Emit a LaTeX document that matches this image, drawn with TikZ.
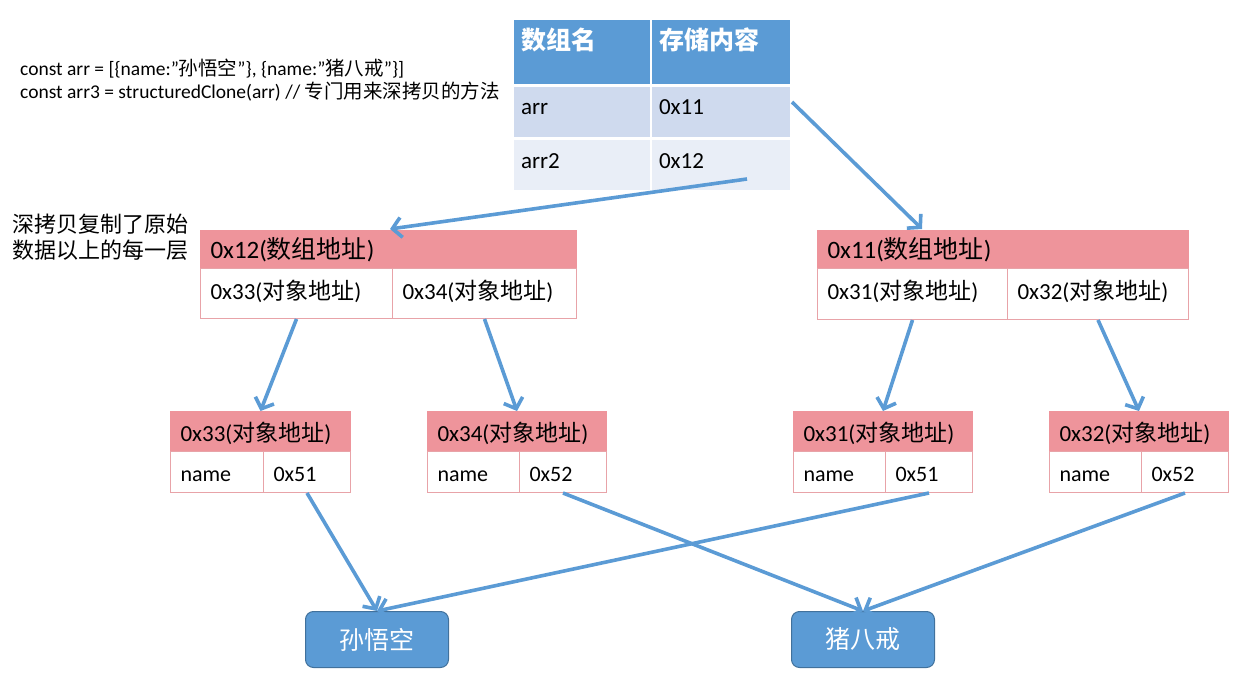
\documentclass[tikz,border=0pt]{standalone}
\usepackage{fontspec}
\setmainfont{Carlito}
\newfontfamily\cjk{Noto Sans CJK SC}
\usetikzlibrary{arrows.meta,calc}
\definecolor{hblue}{HTML}{5B9BD5}
\definecolor{rowa}{HTML}{CFDAEE}
\definecolor{rowb}{HTML}{E9EEF7}
\definecolor{pinkh}{HTML}{EE949B}
\definecolor{pinkl}{HTML}{E8A3A8}
\definecolor{bdark}{HTML}{41719C}
\newcommand\zh[1]{{\cjk #1}}
\newcommand\dq{\symbol{34}}
\tikzset{
  tcell/.style={draw=white, line width=2pt, anchor=north west, inner xsep=8pt, inner ysep=0pt, align=left},
  pcell/.style={draw=pinkl, line width=1pt, anchor=north west, inner xsep=10pt, inner ysep=0pt, align=left},
  phead/.style={pcell, fill=pinkh, draw=pinkh},
  leaf/.style={draw=bdark, line width=1pt, fill=hblue, rounded corners=8pt, minimum width=143pt, minimum height=56pt, anchor=north west, text=white, font=\cjk\fontsize{25}{30}\selectfont},
  link/.style={draw=hblue, line width=3.6pt, -{Straight Barb[length=9pt,width=20pt,line width=3.6pt]}},
}
\begin{document}
\begin{tikzpicture}[x=1pt,y=-1pt]
\useasboundingbox (0,0) rectangle (1240,682);
% code
\node[anchor=north west, inner sep=0pt, align=left, font=\fontsize{19.5}{23}\selectfont] (code) at (20,59)
 {const arr = [\{name:\dq\zh{孙悟空}\dq\}, \{name:\dq\zh{猪八戒}\dq\}]\\const arr3 = structuredClone(arr) // \zh{专门用来深拷贝的方法}};
% note
\node[anchor=north west, inner sep=0pt, align=left, font=\cjk\fontsize{22}{26}\selectfont] (note) at (12,214)
 {深拷贝复制了原始\\数据以上的每一层};
% table
\node[tcell, fill=hblue, text width=122pt, text height=31pt, text depth=35pt, text=white, font=\cjk\bfseries\fontsize{25}{30}\selectfont] (h1) at (512,18) {数组名};
\node[tcell, fill=hblue, text width=124pt, text height=31pt, text depth=35pt, text=white, font=\cjk\bfseries\fontsize{25}{30}\selectfont] (h2) at (650,18) {存储内容};
\node[tcell, fill=rowa, text width=122pt, text height=29pt, text depth=23pt, font=\fontsize{23}{28}\selectfont] (n1) at (512,85) {arr};
\node[tcell, fill=rowa, text width=124pt, text height=29pt, text depth=23pt, font=\fontsize{23}{28}\selectfont] (v1) at (650,85) {0x11};
\node[tcell, fill=rowb, text width=122pt, text height=29pt, text depth=23pt, font=\fontsize{23}{28}\selectfont] (n2) at (512,138) {arr2};
\node[tcell, fill=rowb, text width=124pt, text height=29pt, text depth=23pt, font=\fontsize{23}{28}\selectfont] (v2) at (650,138) {0x12};
% left array
\begin{scope}[every node/.append style={font=\fontsize{23}{27}\selectfont}]
\node[phead, text width=356pt, text height=28pt, text depth=10pt, font=\fontsize{25}{29}\selectfont] (la) at (200,230) {0x12(\zh{数组地址})};
\node[pcell, text width=172pt, text height=31pt, text depth=19pt] (a33) at (200,268) {0x33(\zh{对象地址})};
\node[pcell, text width=164pt, text height=31pt, text depth=19pt] (a34) at (392,268) {0x34(\zh{对象地址})};
% right array
\node[phead, text width=351pt, text height=28pt, text depth=10pt, font=\fontsize{25}{29}\selectfont] (ra) at (817,230) {0x11(\zh{数组地址})};
\node[pcell, text width=170pt, text height=31pt, text depth=20pt] (a31) at (817,268) {0x31(\zh{对象地址})};
\node[pcell, text width=161pt, text height=31pt, text depth=20pt] (a32) at (1007,268) {0x32(\zh{对象地址})};
% objects
\node[phead, text width=160pt, text height=30pt, text depth=10pt] (o33) at (170,411) {0x33(\zh{对象地址})};
\node[pcell, text width=73pt, text height=30pt, text depth=11pt, font=\fontsize{22}{26}\selectfont] (k33) at (170,451) {name};
\node[pcell, text width=67pt, text height=30pt, text depth=11pt, font=\fontsize{22}{26}\selectfont] (v33) at (263,451) {0x51};
\node[phead, text width=159pt, text height=30pt, text depth=10pt] (o34) at (427,411) {0x34(\zh{对象地址})};
\node[pcell, text width=72pt, text height=30pt, text depth=11pt, font=\fontsize{22}{26}\selectfont] (k34) at (427,451) {name};
\node[pcell, text width=67pt, text height=30pt, text depth=11pt, font=\fontsize{22}{26}\selectfont] (v34) at (519,451) {0x52};
\node[phead, text width=159pt, text height=30pt, text depth=10pt] (o31) at (793,411) {0x31(\zh{对象地址})};
\node[pcell, text width=72pt, text height=30pt, text depth=11pt, font=\fontsize{22}{26}\selectfont] (k31) at (793,451) {name};
\node[pcell, text width=67pt, text height=30pt, text depth=11pt, font=\fontsize{22}{26}\selectfont] (v31) at (885,451) {0x51};
\node[phead, text width=159pt, text height=30pt, text depth=10pt] (o32) at (1049,411) {0x32(\zh{对象地址})};
\node[pcell, text width=72pt, text height=30pt, text depth=11pt, font=\fontsize{22}{26}\selectfont] (k32) at (1049,451) {name};
\node[pcell, text width=67pt, text height=30pt, text depth=11pt, font=\fontsize{22}{26}\selectfont] (v32) at (1141,451) {0x52};
\end{scope}
% leaves
\node[leaf] (swk) at (305,611) {孙悟空};
\node[leaf] (zbj) at (791,611) {猪八戒};
% arrows
\coordinate (s1) at ($(v1.north east)+(0,17)$);
\coordinate (t1) at ($(ra.north west)+(105,-1)$);
\coordinate (s2) at ($(v2.south east)+(-45,-13)$);
\coordinate (t2) at ($(la.north west)+(190,-1)$);
\draw[link] (s1) -- (t1);
\draw[link] (s2) -- (t2);
\draw[link] (a33.south) -- (o33.north);
\draw[link] (a34.south) -- (o34.north);
\draw[link] (a31.south) -- (o31.north);
\draw[link] (a32.south) -- (o32.north);
\draw[link] (v33.south) -- (swk.north);
\draw[link] (v34.south) -- (zbj.north);
\draw[link] (v31.south) -- (swk.north);
\draw[link] (v32.south) -- (zbj.north);
\end{tikzpicture}
\end{document}
